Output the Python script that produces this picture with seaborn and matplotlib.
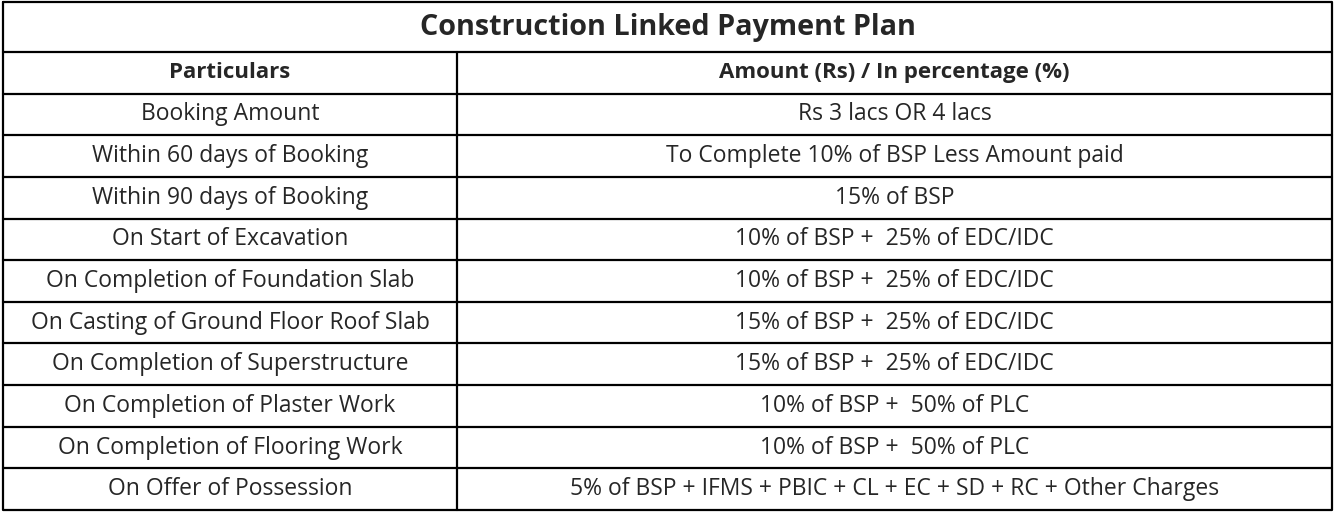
import matplotlib
matplotlib.use("Agg")
import matplotlib.pyplot as plt
import seaborn as sns

# ---- data ----
title = "Construction Linked Payment Plan"
headers = ["Particulars", "Amount (Rs) / In percentage (%)"]
particulars = [
    "Booking Amount",
    "Within 60 days of Booking",
    "Within 90 days of Booking",
    "On Start of Excavation",
    "On Completion of Foundation Slab",
    "On Casting of Ground Floor Roof Slab",
    "On Completion of Superstructure",
    "On Completion of Plaster Work",
    "On Completion of Flooring Work",
    "On Offer of Possession",
]
amounts = [
    "Rs 3 lacs OR 4 lacs",
    "To Complete 10% of BSP Less Amount paid",
    "15% of BSP",
    "10% of BSP +  25% of EDC/IDC",
    "10% of BSP +  25% of EDC/IDC",
    "15% of BSP +  25% of EDC/IDC",
    "15% of BSP +  25% of EDC/IDC",
    "10% of BSP +  50% of PLC",
    "10% of BSP +  50% of PLC",
    "5% of BSP + IFMS + PBIC + CL + EC + SD + RC + Other Charges",
]

sns.set_theme(style="white", rc={"font.family": "Open Sans"})
fig = plt.figure(figsize=(13.36, 5.12), dpi=100)
ax = fig.add_axes([0, 0, 1, 1])
ax.set_xlim(0, 1336)
ax.set_ylim(512, 0)
ax.axis("off")

left, right, split = 3, 1332, 457
title_bot = 52
row_h = (510 - title_bot) / (len(particulars) + 1)

# grid lines
ax.plot([left, right, right, left, left], [2, 2, 510, 510, 2], color="black", lw=1.6)
ax.plot([left, right], [title_bot, title_bot], color="black", lw=1.6)
for i in range(1, len(particulars) + 1):
    y = title_bot + i * row_h
    ax.plot([left, right], [y, y], color="black", lw=1.6)
ax.plot([split, split], [title_bot, 510], color="black", lw=1.6)

ax.text(668, title_bot / 2 + 1, title, ha="center", va="center", fontsize=20.7, fontweight="bold")
ax.text((left + split) / 2, title_bot + row_h / 2, headers[0], ha="center", va="center",
        fontsize=16, fontweight="bold")
ax.text((split + right) / 2, title_bot + row_h / 2, headers[1], ha="center", va="center",
        fontsize=16, fontweight="bold")
for i, (p, a) in enumerate(zip(particulars, amounts)):
    yc = title_bot + (i + 1.5) * row_h
    ax.text((left + split) / 2, yc, p, ha="center", va="center", fontsize=16.5)
    ax.text((split + right) / 2, yc, a, ha="center", va="center", fontsize=16.5)

fig.savefig("out.png", dpi=100)
